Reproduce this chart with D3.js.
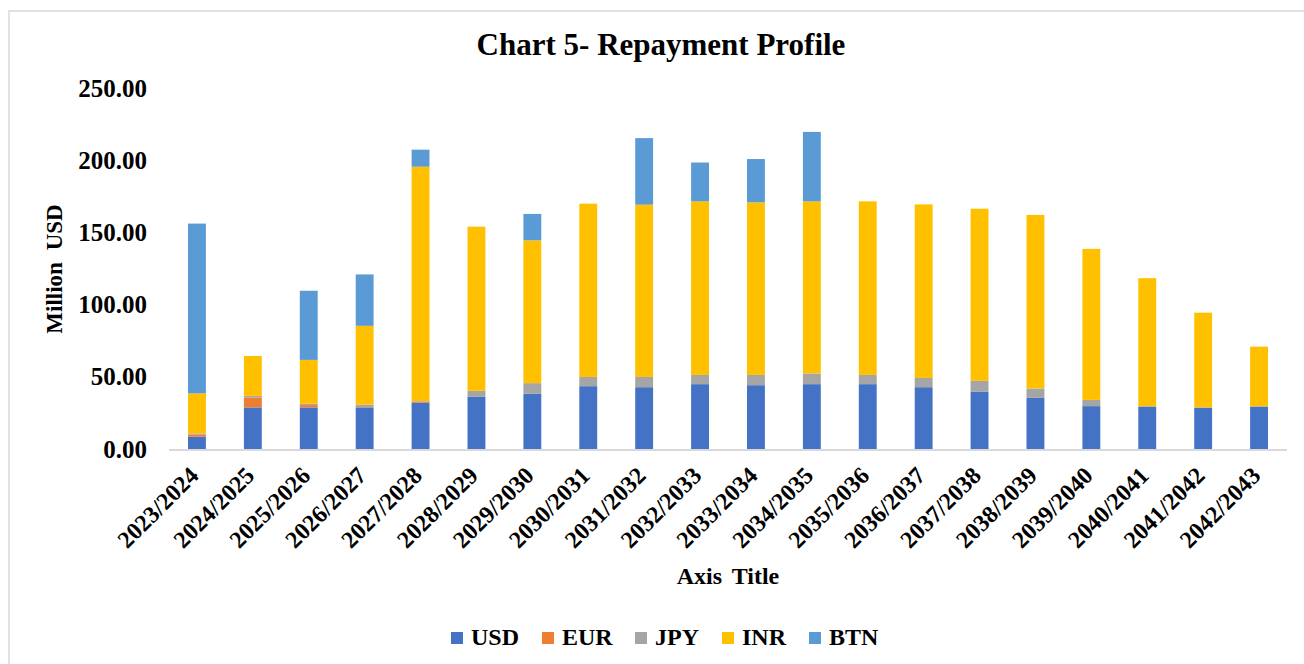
<!DOCTYPE html>
<html>
<head>
<meta charset="utf-8">
<script src="https://cdn.jsdelivr.net/npm/d3@7"></script>
<style>
  html, body { margin: 0; padding: 0; background: #ffffff; }
  svg { display: block; font-family: "Liberation Serif", "Times New Roman", serif; }
</style>
</head>
<body>
<svg id="chart" width="1304" height="664"></svg>
<script>
// Chart data (million USD)
const years = ["2023/2024", "2024/2025", "2025/2026", "2026/2027", "2027/2028",
  "2028/2029", "2029/2030", "2030/2031", "2031/2032", "2032/2033",
  "2033/2034", "2034/2035", "2035/2036", "2036/2037", "2037/2038",
  "2038/2039", "2039/2040", "2040/2041", "2041/2042", "2042/2043"];
const usd = [8.5, 28.8, 28.8, 28.8, 32.0, 36.1, 38.2, 43.5, 42.8, 44.9,
  44.2, 44.9, 44.9, 42.8, 39.8, 35.4, 29.7, 29.2, 28.5, 29.2];
const eur = [1.6, 6.9, 1.6, 0.3, 0.9, 0, 0, 0, 0, 0,
  0, 0, 0, 0, 0, 0, 0, 0, 0, 0];
const jpy = [0.7, 1.1, 0.9, 1.6, 0.3, 4.2, 7.4, 6.4, 7.1, 6.4,
  7.1, 7.4, 6.4, 6.4, 7.4, 6.5, 4.3, 0.5, 0.4, 0.5];
const inr = [27.7, 27.6, 30.4, 54.6, 162.3, 113.7, 98.9, 120.0, 119.3, 120.2,
  119.5, 119.2, 120.2, 120.2, 119.2, 120.2, 104.6, 88.6, 65.5, 41.2];
const btn = [117.6, 0, 47.9, 35.6, 11.8, 0, 18.3, 0, 46.1, 26.9,
  30.0, 48.1, 0, 0, 0, 0, 0, 0, 0, 0];
const seriesNames = ["USD", "EUR", "JPY", "INR", "BTN"];
const seriesColors = ["#4472C4", "#ED7D31", "#A5A5A5", "#FFC000", "#5B9BD5"];
const yTicks = [0, 50, 100, 150, 200, 250];

const svg = d3.select("#chart");

// chart frame
svg.append("rect")
  .attr("x", 9).attr("y", 11)
  .attr("width", 1310).attr("height", 670)
  .attr("fill", "none")
  .attr("stroke", "#d9d9d9")
  .attr("stroke-width", 1.5);

// Build rows for the stack
const rows = years.map((yr, i) => ({
  year: yr, USD: usd[i], EUR: eur[i], JPY: jpy[i], INR: inr[i], BTN: btn[i]
}));
const stacked = d3.stack().keys(seriesNames)(rows);

const x = d3.scaleBand()
  .domain(years)
  .range([169, 1287])
  .paddingInner(0.68)
  .paddingOuter(0.34);

const y = d3.scaleLinear()
  .domain([0, 250])
  .range([449, 88]);

const color = d3.scaleOrdinal().domain(seriesNames).range(seriesColors);

// Bars
svg.append("g")
  .selectAll("g")
  .data(stacked)
  .enter().append("g")
  .attr("fill", d => color(d.key))
  .selectAll("rect")
  .data(d => d)
  .enter().append("rect")
  .attr("x", d => x(d.data.year))
  .attr("width", x.bandwidth())
  .attr("y", d => y(d[1]))
  .attr("height", d => Math.max(0, y(d[0]) - y(d[1])));

// X axis line
svg.append("line")
  .attr("x1", 169).attr("x2", 1287)
  .attr("y1", y(0) + 1).attr("y2", y(0) + 1)
  .attr("stroke", "#d9d9d9")
  .attr("stroke-width", 2);

// Y axis labels (no line, no grid)
const yAxis = svg.append("g")
  .attr("transform", "translate(147,0)")
  .call(d3.axisLeft(y).tickValues(yTicks).tickFormat(d3.format(".2f")).tickSize(0).tickPadding(0));
yAxis.select(".domain").remove();
yAxis.selectAll("text")
  .attr("font-family", "Liberation Serif, Times New Roman, serif")
  .attr("font-size", "25px")
  .attr("font-weight", "bold")
  .attr("fill", "#000");

// X axis labels, rotated
const xAxis = svg.append("g")
  .attr("transform", `translate(0,${y(0)})`)
  .call(d3.axisBottom(x).tickSize(0).tickPadding(0));
xAxis.select(".domain").remove();
xAxis.selectAll("text")
  .attr("font-family", "Liberation Serif, Times New Roman, serif")
  .attr("font-size", "24px")
  .attr("font-weight", "bold")
  .attr("fill", "#000")
  .attr("text-anchor", "end")
  .attr("dy", "0")
  .attr("transform", "translate(3,28) rotate(-45)");

// Title
svg.append("text")
  .attr("x", 661).attr("y", 55)
  .attr("text-anchor", "middle")
  .attr("font-size", "31px")
  .attr("font-weight", "bold")
  .text("Chart 5- Repayment Profile");

// Axis titles
svg.append("text")
  .attr("x", 728).attr("y", 584)
  .attr("text-anchor", "middle")
  .attr("font-size", "24px")
  .attr("font-weight", "bold")
  .attr("word-spacing", "4px")
  .text("Axis Title");

svg.append("text")
  .attr("transform", "translate(62,269) rotate(-90)")
  .attr("text-anchor", "middle")
  .attr("font-size", "23px")
  .attr("font-weight", "bold")
  .attr("word-spacing", "6px")
  .text("Million USD");

// Legend
const legendX = [451, 542, 635, 722, 809];
const legend = svg.append("g")
  .selectAll("g")
  .data(seriesNames)
  .enter().append("g")
  .attr("transform", (d, i) => `translate(${legendX[i]},632)`);
legend.append("rect")
  .attr("width", 12).attr("height", 12)
  .attr("fill", d => color(d));
legend.append("text")
  .attr("x", 20).attr("y", 13)
  .attr("font-size", "24px")
  .attr("font-weight", "bold")
  .text(d => d);
</script>
</body>
</html>
